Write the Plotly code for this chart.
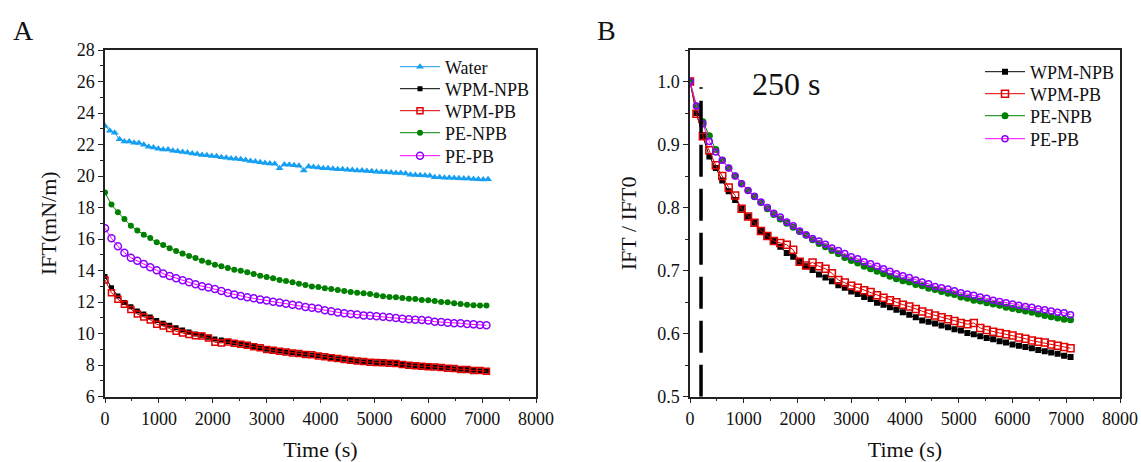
import plotly.graph_objects as go

FONT = "Liberation Serif"

# ---------------- data ----------------
times = [0, 120, 240, 360, 480, 600, 720, 840, 960, 1080,
         1200, 1320, 1440, 1560, 1680, 1800, 1920, 2040, 2160, 2280,
         2400, 2520, 2640, 2760, 2880, 3000, 3120, 3240, 3360, 3480,
         3600, 3720, 3840, 3960, 4080, 4200, 4320, 4440, 4560, 4680,
         4800, 4920, 5040, 5160, 5280, 5400, 5520, 5640, 5760, 5880,
         6000, 6120, 6240, 6360, 6480, 6600, 6720, 6840, 6960, 7080]

water_times = [0, 90, 180, 270, 360, 450, 540, 630, 720, 810,
               900, 990, 1080, 1170, 1260, 1350, 1440, 1530, 1620, 1710,
               1800, 1890, 1980, 2070, 2160, 2250, 2340, 2430, 2520, 2610,
               2700, 2790, 2880, 2970, 3060, 3150, 3240, 3330, 3420, 3510,
               3600, 3690, 3780, 3870, 3960, 4050, 4140, 4230, 4320, 4410,
               4500, 4590, 4680, 4770, 4860, 4950, 5040, 5130, 5220, 5310,
               5400, 5490, 5580, 5670, 5760, 5850, 5940, 6030, 6120, 6210,
               6300, 6390, 6480, 6570, 6660, 6750, 6840, 6930, 7020, 7110]

water_ift = [23.18, 22.88, 22.75, 22.33, 22.20, 22.20, 22.12, 22.10, 21.99, 21.86,
             21.82, 21.74, 21.69, 21.68, 21.61, 21.58, 21.52, 21.49, 21.44, 21.40,
             21.34, 21.32, 21.27, 21.25, 21.20, 21.17, 21.12, 21.10, 21.06, 21.02,
             20.95, 20.93, 20.87, 20.83, 20.80, 20.78, 20.49, 20.74, 20.72, 20.68,
             20.66, 20.35, 20.60, 20.58, 20.54, 20.50, 20.49, 20.47, 20.44, 20.43,
             20.40, 20.38, 20.36, 20.35, 20.32, 20.31, 20.28, 20.26, 20.24, 20.22,
             20.20, 20.19, 20.16, 20.08, 20.07, 20.05, 20.04, 20.02, 19.93, 19.92,
             19.90, 19.90, 19.88, 19.86, 19.85, 19.84, 19.82, 19.80, 19.78, 19.80]

wpm_npb_ift = [13.62, 12.92, 12.39, 11.97, 11.71, 11.44, 11.25, 11.06, 10.83, 10.66,
               10.53, 10.38, 10.23, 10.11, 9.98, 9.90, 9.77, 9.66, 9.60, 9.51,
               9.41, 9.35, 9.26, 9.18, 9.09, 9.01, 8.94, 8.90, 8.83, 8.79,
               8.73, 8.69, 8.65, 8.60, 8.52, 8.48, 8.41, 8.37, 8.31, 8.27,
               8.22, 8.20, 8.16, 8.16, 8.14, 8.10, 8.05, 7.99, 7.97, 7.93,
               7.91, 7.89, 7.84, 7.82, 7.78, 7.74, 7.72, 7.68, 7.65, 7.63]

wpm_pb_ift = [13.41, 12.60, 12.18, 11.86, 11.54, 11.25, 11.06, 10.87, 10.59, 10.48,
              10.32, 10.15, 10.04, 9.94, 9.87, 9.85, 9.72, 9.45, 9.41, 9.47,
              9.39, 9.33, 9.27, 9.17, 9.10, 9.00, 8.95, 8.88, 8.84, 8.78,
              8.74, 8.68, 8.66, 8.59, 8.53, 8.47, 8.42, 8.36, 8.32, 8.26,
              8.23, 8.19, 8.17, 8.15, 8.13, 8.11, 8.04, 8.00, 7.96, 7.94,
              7.90, 7.88, 7.85, 7.81, 7.79, 7.73, 7.73, 7.67, 7.66, 7.62]

pe_npb_ift = [18.95, 18.19, 17.70, 17.28, 16.85, 16.54, 16.28, 16.07, 15.80, 15.63,
              15.42, 15.25, 15.08, 14.93, 14.80, 14.63, 14.51, 14.38, 14.27, 14.17,
              14.06, 14.00, 13.89, 13.79, 13.68, 13.60, 13.51, 13.41, 13.34, 13.26,
              13.17, 13.09, 13.00, 12.96, 12.88, 12.84, 12.77, 12.71, 12.65, 12.60,
              12.56, 12.52, 12.43, 12.37, 12.33, 12.31, 12.26, 12.22, 12.20, 12.14,
              12.12, 12.07, 12.01, 11.99, 11.93, 11.88, 11.84, 11.80, 11.78, 11.78]

pe_pb_ift = [16.69, 16.05, 15.54, 15.14, 14.82, 14.63, 14.42, 14.21, 14.02, 13.81,
             13.66, 13.51, 13.39, 13.26, 13.13, 13.01, 12.93, 12.83, 12.71, 12.58,
             12.48, 12.39, 12.31, 12.24, 12.16, 12.10, 12.03, 11.97, 11.90, 11.84,
             11.78, 11.69, 11.65, 11.59, 11.48, 11.42, 11.35, 11.29, 11.25, 11.21,
             11.16, 11.14, 11.10, 11.08, 11.04, 10.99, 10.95, 10.91, 10.89, 10.87,
             10.83, 10.76, 10.74, 10.70, 10.66, 10.66, 10.61, 10.59, 10.55, 10.53]

wpm_npb_ratio = [1.000, 0.950, 0.913, 0.881, 0.863, 0.843, 0.826, 0.812, 0.798, 0.786,
                 0.776, 0.763, 0.755, 0.747, 0.738, 0.728, 0.722, 0.714, 0.707, 0.701,
                 0.694, 0.689, 0.683, 0.677, 0.673, 0.667, 0.663, 0.658, 0.655, 0.649,
                 0.646, 0.642, 0.638, 0.634, 0.630, 0.626, 0.621, 0.619, 0.616, 0.613,
                 0.610, 0.607, 0.605, 0.601, 0.599, 0.596, 0.593, 0.591, 0.588, 0.586,
                 0.583, 0.581, 0.579, 0.577, 0.574, 0.572, 0.570, 0.568, 0.565, 0.563]

wpm_pb_ratio = [1.000, 0.949, 0.913, 0.891, 0.867, 0.850, 0.832, 0.819, 0.798, 0.786,
                0.776, 0.763, 0.755, 0.747, 0.744, 0.741, 0.733, 0.714, 0.708, 0.713,
                0.707, 0.703, 0.696, 0.685, 0.681, 0.676, 0.673, 0.669, 0.666, 0.661,
                0.657, 0.653, 0.650, 0.646, 0.643, 0.639, 0.635, 0.632, 0.629, 0.626,
                0.623, 0.620, 0.617, 0.615, 0.617, 0.609, 0.606, 0.603, 0.601, 0.599,
                0.597, 0.594, 0.592, 0.589, 0.587, 0.586, 0.583, 0.581, 0.579, 0.577]

pe_npb_ratio = [1.000, 0.961, 0.936, 0.914, 0.892, 0.875, 0.863, 0.850, 0.838, 0.827,
                0.817, 0.808, 0.798, 0.789, 0.782, 0.775, 0.769, 0.762, 0.756, 0.749,
                0.743, 0.738, 0.732, 0.727, 0.721, 0.716, 0.712, 0.707, 0.703, 0.699,
                0.695, 0.691, 0.687, 0.684, 0.682, 0.678, 0.676, 0.672, 0.670, 0.667,
                0.664, 0.662, 0.658, 0.656, 0.653, 0.652, 0.649, 0.647, 0.645, 0.642,
                0.640, 0.638, 0.636, 0.634, 0.631, 0.629, 0.627, 0.625, 0.623, 0.622]

pe_pb_ratio = [1.000, 0.961, 0.933, 0.905, 0.888, 0.875, 0.863, 0.850, 0.838, 0.827,
               0.818, 0.809, 0.800, 0.791, 0.785, 0.777, 0.771, 0.763, 0.757, 0.751,
               0.747, 0.742, 0.736, 0.732, 0.727, 0.722, 0.719, 0.714, 0.711, 0.707,
               0.703, 0.699, 0.695, 0.692, 0.689, 0.685, 0.682, 0.679, 0.675, 0.673,
               0.671, 0.668, 0.665, 0.663, 0.661, 0.658, 0.656, 0.653, 0.651, 0.649,
               0.647, 0.645, 0.643, 0.642, 0.639, 0.638, 0.636, 0.634, 0.633, 0.630]

marker_time = 205          # position of the dashed guide line (s)
marker_label = "250 s"

# ---------------- styles ----------------
C_WATER = "#17A0F2"
C_BLACK = "#000000"
C_RED = "#E00000"
C_GREEN = "#008000"
C_MAG = "#FF00FF"
C_VIOLET = "#8A00FF"

W, H = 1141, 462
LEG_A_X, LEG_B_X = 395, 980
LEG_A_Y = [67, 89, 111, 133, 156]
LEG_B_Y = [72, 94, 116, 139]

fig = go.Figure()

def add(x, y, name, color, sym, size, mcolor, xa, ya, leg, open_=False, lw=1.5):
    m = dict(symbol=sym, size=size, color=mcolor)
    if open_:
        m["line"] = dict(width=lw, color=mcolor)
    fig.add_trace(go.Scatter(x=x, y=y, name=name, mode="lines+markers",
                             line=dict(color=color, width=1), marker=m,
                             xaxis=xa, yaxis=ya, legend=leg, showlegend=True))

# Panel A
add(water_times, water_ift, "Water", C_WATER, "triangle-up", 7, C_WATER, "x", "y", "legend")
add(times, wpm_npb_ift, "WPM-NPB", C_BLACK, "square", 5, C_BLACK, "x", "y", "legend2")
add(times, wpm_pb_ift, "WPM-PB", C_RED, "square-open", 6, C_RED, "x", "y", "legend3", True)
add(times, pe_npb_ift, "PE-NPB", C_GREEN, "circle", 6, C_GREEN, "x", "y", "legend4")
add(times, pe_pb_ift, "PE-PB", C_MAG, "circle-open", 7, C_VIOLET, "x", "y", "legend5", True)

# Panel B
add(times, wpm_npb_ratio, "WPM-NPB", C_BLACK, "square", 6, C_BLACK, "x2", "y2", "legend6")
add(times, wpm_pb_ratio, "WPM-PB", C_RED, "square-open", 7, C_RED, "x2", "y2", "legend7", True)
add(times, pe_npb_ratio, "PE-NPB", C_GREEN, "circle", 7, C_GREEN, "x2", "y2", "legend8")
add(times, pe_pb_ratio, "PE-PB", C_MAG, "circle-open", 6, C_VIOLET, "x2", "y2", "legend9", True)

fig.add_shape(type="line", xref="x2", yref="y2", x0=marker_time, x1=marker_time,
              y0=0.5, y1=0.991, line=dict(color="black", width=3.5, dash="32px,12px"))

ydom = [1 - 396.7 / H, 1 - 50 / H]

def axis(**kw):
    d = dict(showline=True, linecolor="#222", linewidth=1.5, mirror=True,
             ticks="outside", ticklen=5, tickwidth=1.2, tickcolor="#222",
             showgrid=False, zeroline=False, automargin=False,
             tickfont=dict(family=FONT, size=18, color="#111"))
    d.update(kw)
    return d

def minor(dt):
    return dict(ticks="outside", ticklen=3, tickwidth=1, tickcolor="#222", dtick=dt)

def ttl(text, standoff):
    return dict(text=text, font=dict(family=FONT, size=22, color="#111"), standoff=standoff)

layout_legends = {}
names = ["legend", "legend2", "legend3", "legend4", "legend5",
         "legend6", "legend7", "legend8", "legend9"]
positions = [(LEG_A_X, y) for y in LEG_A_Y] + [(LEG_B_X, y) for y in LEG_B_Y]
for nm, (lx, ly) in zip(names, positions):
    layout_legends[nm] = dict(x=lx / W, y=1 - ly / H, xanchor="left", yanchor="middle",
                              bgcolor="rgba(0,0,0,0)", borderwidth=0, visible=True,
                              font=dict(family=FONT, size=18, color="#111"),
                              itemwidth=40)

fig.update_layout(
    width=W, height=H,
    showlegend=True,
    margin=dict(l=0, r=0, t=0, b=0),
    paper_bgcolor="white", plot_bgcolor="white",
    font=dict(family=FONT, color="#111"),
    xaxis=axis(domain=[105 / W, 536 / W], range=[0, 8000], dtick=1000, tick0=0,
               minor=minor(500), title=ttl("Time (s)", 14), anchor="y"),
    yaxis=axis(domain=ydom, range=[6, 28], dtick=2, tick0=0,
               minor=minor(1), title=ttl("IFT(mN/m)", 14), anchor="x"),
    xaxis2=axis(domain=[690 / W, 1120 / W], range=[0, 8000], dtick=1000, tick0=0,
                minor=minor(500), title=ttl("Time (s)", 14), anchor="y2"),
    yaxis2=axis(domain=ydom, range=[0.5, 1.05], dtick=0.1, tick0=0, tickformat=".1f",
                minor=minor(0.05), title=ttl("IFT / IFT0", 14), anchor="x2"),
    annotations=[
        dict(text="A", x=23 / W, y=1 - 30 / H, xref="paper", yref="paper",
             xanchor="center", yanchor="middle", showarrow=False,
             font=dict(family=FONT, size=28, color="#111")),
        dict(text="B", x=606 / W, y=1 - 30 / H, xref="paper", yref="paper",
             xanchor="center", yanchor="middle", showarrow=False,
             font=dict(family=FONT, size=28, color="#111")),
        dict(text=marker_label, x=786 / W, y=1 - 84 / H, xref="paper", yref="paper",
             xanchor="center", yanchor="middle", showarrow=False,
             font=dict(family=FONT, size=32, color="#111")),
    ],
    **layout_legends,
)

fig.write_html("out.html")
